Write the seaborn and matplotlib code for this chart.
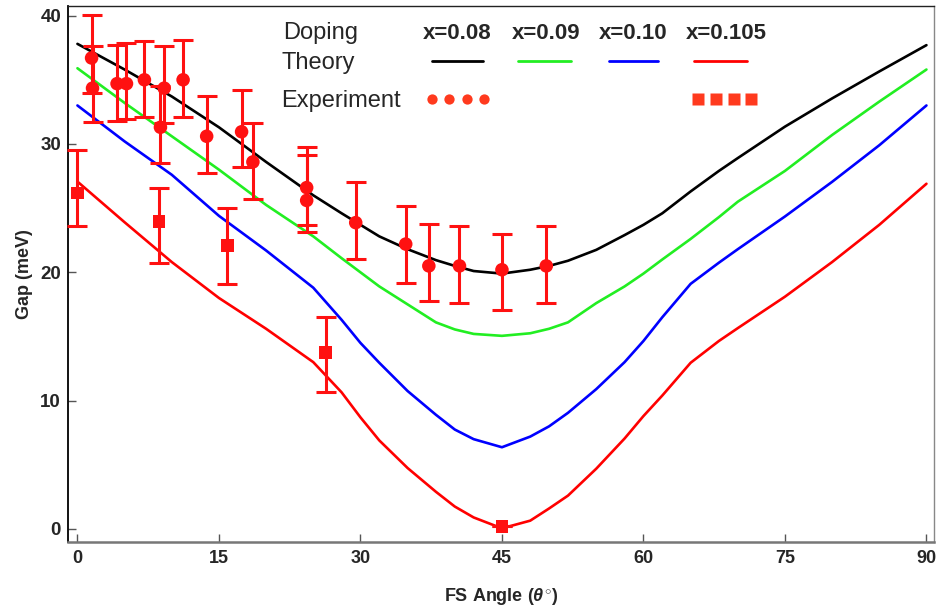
import numpy as np
import pandas as pd
import matplotlib
matplotlib.use("Agg")
import matplotlib.pyplot as plt
import seaborn as sns

# ---- theory curves: gap (meV) vs Fermi-surface angle (deg) ----
angles = [0, 5, 10, 15, 20, 25, 28, 30, 32, 35, 38, 40, 42, 45, 48, 50,
          52, 55, 58, 60, 62, 65, 68, 70, 75, 80, 85, 90]
gap_x008 = [37.8, 35.8, 33.7, 31.3, 28.6, 26.0, 24.6, 23.7, 22.8, 21.8, 20.95,
            20.5, 20.1, 19.9, 20.2, 20.5, 20.9, 21.75, 22.9, 23.7, 24.6, 26.3,
            27.9, 28.9, 31.35, 33.55, 35.65, 37.7]
gap_x009 = [35.9, 33.2, 30.6, 28.0, 25.25, 22.8, 21.1, 20.0, 18.9, 17.5, 16.1,
            15.55, 15.2, 15.05, 15.25, 15.6, 16.1, 17.6, 18.9, 19.9, 21.0, 22.6,
            24.3, 25.5, 27.9, 30.7, 33.3, 35.8]
gap_x010 = [33.0, 30.2, 27.6, 24.4, 21.7, 18.8, 16.3, 14.5, 12.95, 10.75, 8.9,
            7.75, 7.0, 6.37, 7.2, 8.0, 9.05, 10.9, 13.0, 14.65, 16.5, 19.1,
            20.75, 21.8, 24.35, 27.05, 29.9, 33.0]
gap_x0105 = [27.07, 23.9, 20.8, 18.0, 15.6, 13.0, 10.65, 8.7, 6.9, 4.75, 2.9,
             1.75, 0.9, 0.05, 0.65, 1.6, 2.6, 4.7, 7.05, 8.8, 10.4, 12.95,
             14.65, 15.65, 18.1, 20.8, 23.7, 26.9]

dopings = ["x=0.08", "x=0.09", "x=0.10", "x=0.105"]
curve_colors = ["#000000", "#22ee22", "#0000ff", "#ff0000"]

# ---- experiment, x=0.08 (circles) with error-bar bounds ----
circ_angle = [1.5, 1.6, 4.2, 5.2, 7.1, 9.2, 8.8, 11.2, 13.7, 17.4, 18.6,
              24.3, 24.3, 29.5, 34.8, 37.25, 40.5, 45.0, 49.7]
circ_gap = [36.7, 34.35, 34.7, 34.7, 35.0, 34.35, 31.3, 35.0, 30.6, 30.95,
            28.6, 26.6, 25.6, 23.87, 22.2, 20.5, 20.5, 20.2, 20.5]
circ_low = [34.0, 31.7, 31.8, 31.95, 32.1, 31.65, 28.5, 32.1, 27.7, 28.2,
            25.7, 23.72, 23.17, 21.0, 19.2, 17.8, 17.64, 17.07, 17.64]
circ_high = [40.05, 37.67, 37.7, 37.9, 38.0, 37.67, 34.5, 38.1, 33.7, 34.2,
             31.65, 29.75, 29.17, 27.0, 25.17, 23.8, 23.64, 23.0, 23.64]

# ---- experiment, x=0.105 (squares) ----
sq_angle = [0.0, 8.65, 15.9, 26.3, 45.0]
sq_gap = [26.2, 23.95, 22.1, 13.75, 0.2]
sq_low = [23.6, 20.7, 19.1, 10.65, 0.2]
sq_high = [29.5, 26.6, 25.0, 16.55, 0.2]

sns.set_style("white")
plt.rcParams["font.family"] = ["Liberation Sans", "DejaVu Sans"]
plt.rcParams["mathtext.fontset"] = "custom"
plt.rcParams["mathtext.it"] = "Liberation Sans:italic:bold"
plt.rcParams["mathtext.rm"] = "Liberation Sans:bold"

fig = plt.figure(figsize=(9.38, 6.10), dpi=100)
ax = fig.add_axes([68 / 938, (610 - 541.7) / 610, 866 / 938, 535.7 / 610])

theory = pd.DataFrame({
    "angle": angles * 4,
    "gap": gap_x008 + gap_x009 + gap_x010 + gap_x0105,
    "doping": sum([[d] * len(angles) for d in dopings], []),
})
sns.lineplot(data=theory, x="angle", y="gap", hue="doping",
             palette=dict(zip(dopings, curve_colors)), sort=False,
             linewidth=1.9, legend=False, ax=ax, zorder=2)

pt_color = "#ff1111"
c_arr = np.array(circ_gap)
ax.errorbar(circ_angle, circ_gap,
            yerr=[c_arr - np.array(circ_low), np.array(circ_high) - c_arr],
            fmt="none", ecolor=pt_color, elinewidth=2.2, capsize=7.5,
            capthick=2.2, zorder=3, clip_on=False)
s_arr = np.array(sq_gap)
ax.errorbar(sq_angle, sq_gap,
            yerr=[s_arr - np.array(sq_low), np.array(sq_high) - s_arr],
            fmt="none", ecolor=pt_color, elinewidth=2.2, capsize=7.5,
            capthick=2.2, zorder=3, clip_on=False)

sns.scatterplot(x=circ_angle, y=circ_gap, marker="o", s=95, color=pt_color,
                edgecolor="none", ax=ax, zorder=4, clip_on=False)
sns.scatterplot(x=sq_angle, y=sq_gap, marker="s", s=80, color=pt_color,
                edgecolor="none", ax=ax, zorder=4, clip_on=False)

ax.set_xlim(-1.0, 90.8)
ax.set_ylim(-0.99, 40.75)
ax.set_xticks([0, 15, 30, 45, 60, 75, 90])
ax.set_yticks([0, 10, 20, 30, 40])
ax.tick_params(axis="both", direction="in", length=6, width=1,
               color="#555555", bottom=True, left=True, top=False,
               right=False)
ax.tick_params(axis="x", pad=6, labelsize=13)
ax.tick_params(axis="y", pad=5, labelsize=13.5)
for lab in ax.get_xticklabels() + ax.get_yticklabels():
    lab.set_fontweight("bold")

ax.set_xlabel(r"FS Angle ($\theta^{\circ}$)", fontsize=13,
              fontweight="bold", labelpad=14)
ax.set_ylabel("Gap (meV)", fontsize=13, fontweight="bold", labelpad=5)

ax.spines["left"].set_color("#000000")
ax.spines["left"].set_linewidth(1.3)
ax.spines["bottom"].set_color("#777777")
ax.spines["bottom"].set_linewidth(1.8)
ax.spines["top"].set_color("#222222")
ax.spines["top"].set_linewidth(1.0)
ax.spines["right"].set_color("#888888")
ax.spines["right"].set_linewidth(1.0)

# ---- hand-built key in the upper part of the frame ----
tr = ax.transAxes
ax.text(0.248, 0.9378, "Doping", transform=tr, fontsize=17, va="baseline")
ax.text(0.246, 0.8815, "Theory", transform=tr, fontsize=17, va="baseline")
ax.text(0.246, 0.8109, "Experiment", transform=tr, fontsize=17, va="baseline")

label_x = [0.410, 0.5130, 0.6130, 0.7135]
for lx, d in zip(label_x, dopings):
    ax.text(lx, 0.9378, d, transform=tr, fontsize=16, fontweight="bold",
            va="baseline")

seg_x = [(0.420, 0.479), (0.5193, 0.5808), (0.6244, 0.681), (0.7232, 0.7837)]
for (x0, x1), c in zip(seg_x, curve_colors):
    ax.plot([x0, x1], [0.8973, 0.8973], transform=tr, color=c, lw=2.0,
            clip_on=False)

key_color = "#ff3a1e"
ax.plot([0.4200, 0.4400, 0.4607, 0.4800], [0.8258] * 4, transform=tr,
        ls="none", marker="o", ms=7.4, mfc=key_color, mec="none",
        clip_on=False)
ax.plot([0.7271, 0.7479, 0.7687, 0.7887], [0.8258] * 4, transform=tr,
        ls="none", marker="s", ms=9.3, mfc=key_color, mec="none",
        clip_on=False)

fig.savefig("out.png", dpi=100)
